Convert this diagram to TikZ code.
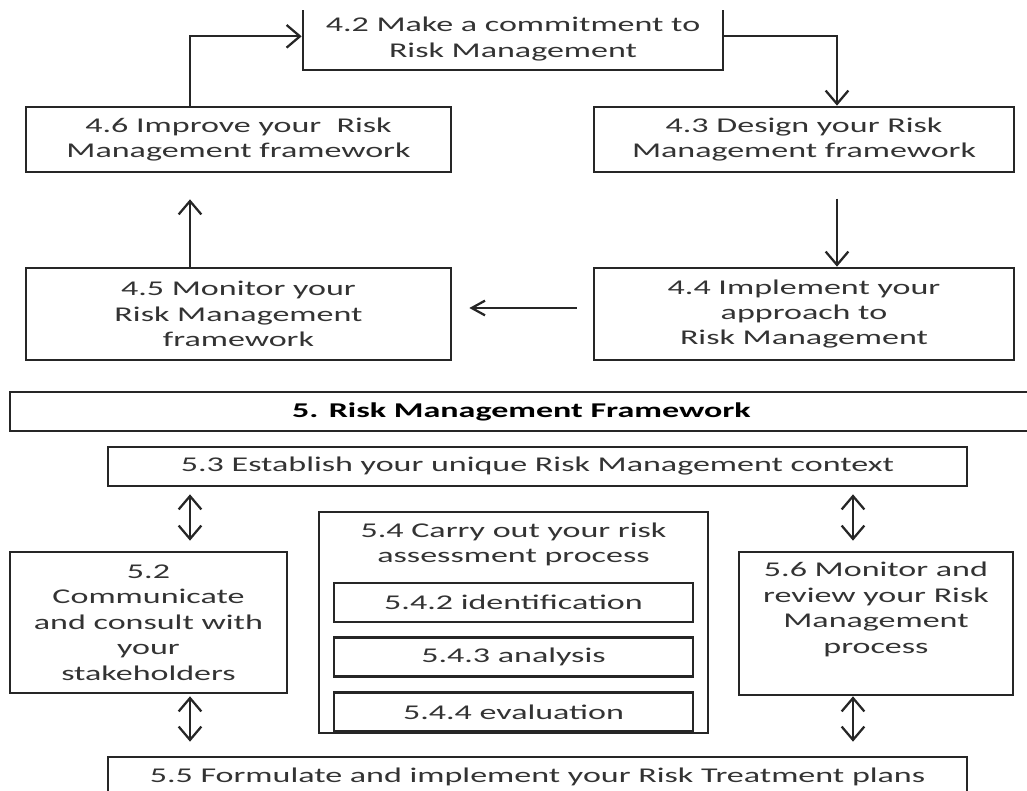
\documentclass[tikz,border=0pt]{standalone}
\usepackage{fontspec}
\setmainfont{Carlito}[FakeStretch=1.62]
\usepackage{tikz}
\usetikzlibrary{arrows.meta, positioning}

\begin{document}
\begin{tikzpicture}[
        x=0.75pt, y=-0.75pt,
        txt/.style={align=center, text=black!80, inner sep=0pt, font=\fontsize{15.75pt}{19.1pt}\selectfont},
        box/.style={txt, rectangle, draw=black!85, line width=2pt},
        lbox/.style={box, minimum width=318.75pt},
        rbox/.style={box, minimum width=315pt},
        sub/.style={box, minimum width=269.25pt, minimum height=29.25pt},
        arr/.style={-{Straight Barb[length=10pt, width=17pt]}, line width=1.7pt, draw=black!85},
        harr/.style={-{Straight Barb[length=10pt, width=11pt]}, line width=1.7pt, draw=black!85},
        dbl/.style={{Straight Barb[length=10pt, width=17pt]}-{Straight Barb[length=10pt, width=17pt]}, line width=1.7pt, draw=black!85},
        node distance=9.75pt,
    ]
        \useasboundingbox (0,0) rectangle (1027,791);
        \clip (0,11) rectangle (1027,791);
        \coordinate (lx) at (190,0);
        \coordinate (rx) at (837,0);
        \coordinate (sx) at (853,0);

        % framework cycle
        \node[rbox, minimum height=46.5pt] (b42) at (513,39) {4.2 Make a commitment to\\Risk Management};
        \node[rbox, minimum height=48.75pt] (b43) at (804,139.5) {4.3 Design your Risk\\Management framework};
        \node[rbox, minimum height=69pt] (b44) at (804,314) {4.4 Implement your\\approach to\\Risk Management};
        \node[lbox, minimum height=69pt] (b45) at (238.5,314) {4.5 Monitor your\\Risk Management\\framework};
        \node[lbox, minimum height=48.75pt] (b46) at (238.5,139.5) {4.6 Improve your~ Risk\\Management framework};

        \draw[arr] (b46.north -| lx) |- ([yshift=2pt]b42.west);
        \draw[arr] ([yshift=2pt]b42.east) -| (b43.north -| rx);
        \draw[arr, shorten <=19pt] (b43.south -| rx) -- (b44.north -| rx);
        \draw[harr, shorten <=12pt, shorten >=12.75pt] ([yshift=4.5pt]b44.west) -- ([yshift=4.5pt]b45.east);
        \draw[arr, shorten >=19.5pt] (b45.north -| lx) -- (b46.south -| lx);

        % process
        \node[box, minimum width=767.25pt, minimum height=29.25pt, text=black, font=\fontsize{15.75pt}{19.1pt}\selectfont\bfseries] (b5) at (521.5,411.5) {5. Risk Management Framework};
        \node[box, minimum width=644.25pt, minimum height=29.25pt] (b53) at (537.5,466.5) {5.3 Establish your unique Risk Management context};
        \node[box, minimum width=207.75pt, minimum height=105.75pt] (b52) at (148.5,622.5) {5.2\\Communicate\\and consult with\\your\\stakeholders};
        \node[box, minimum width=291.75pt, minimum height=165.75pt] (b54) at (513.5,622.5) {};
        \node[txt] (t54) at (513.5,544.5) {5.4 Carry out your risk\\assessment process};
        \node[sub] (b542) at (513.5,602.5) {5.4.2 identification};
        \node[sub, below=of b542] (b543) {5.4.3 analysis};
        \node[sub, below=of b543] (b544) {5.4.4 evaluation};
        \node[box, minimum width=205.5pt, minimum height=107.25pt] (b56) at (876,623.5) {};
        \node[txt] (t56) at (876,609.5) {5.6 Monitor and\\review your Risk\\Management\\process};
        \node[box, minimum width=644.25pt, minimum height=29.25pt] (b55) at (537.5,776.5) {5.5 Formulate and implement your Risk Treatment plans};

        \draw[dbl, shorten <=5.25pt, shorten >=7.5pt] (b53.south -| lx) -- (b52.north -| lx);
        \draw[dbl, shorten <=5.25pt, shorten >=7.5pt] (b53.south -| sx) -- (b56.north -| sx);
        \draw[dbl, shorten <=1.5pt, shorten >=10.5pt] (b52.south -| lx) -- (b55.north -| lx);
        \draw[dbl, shorten >=10.5pt] (b56.south -| sx) -- (b55.north -| sx);
    \end{tikzpicture}
\end{document}
